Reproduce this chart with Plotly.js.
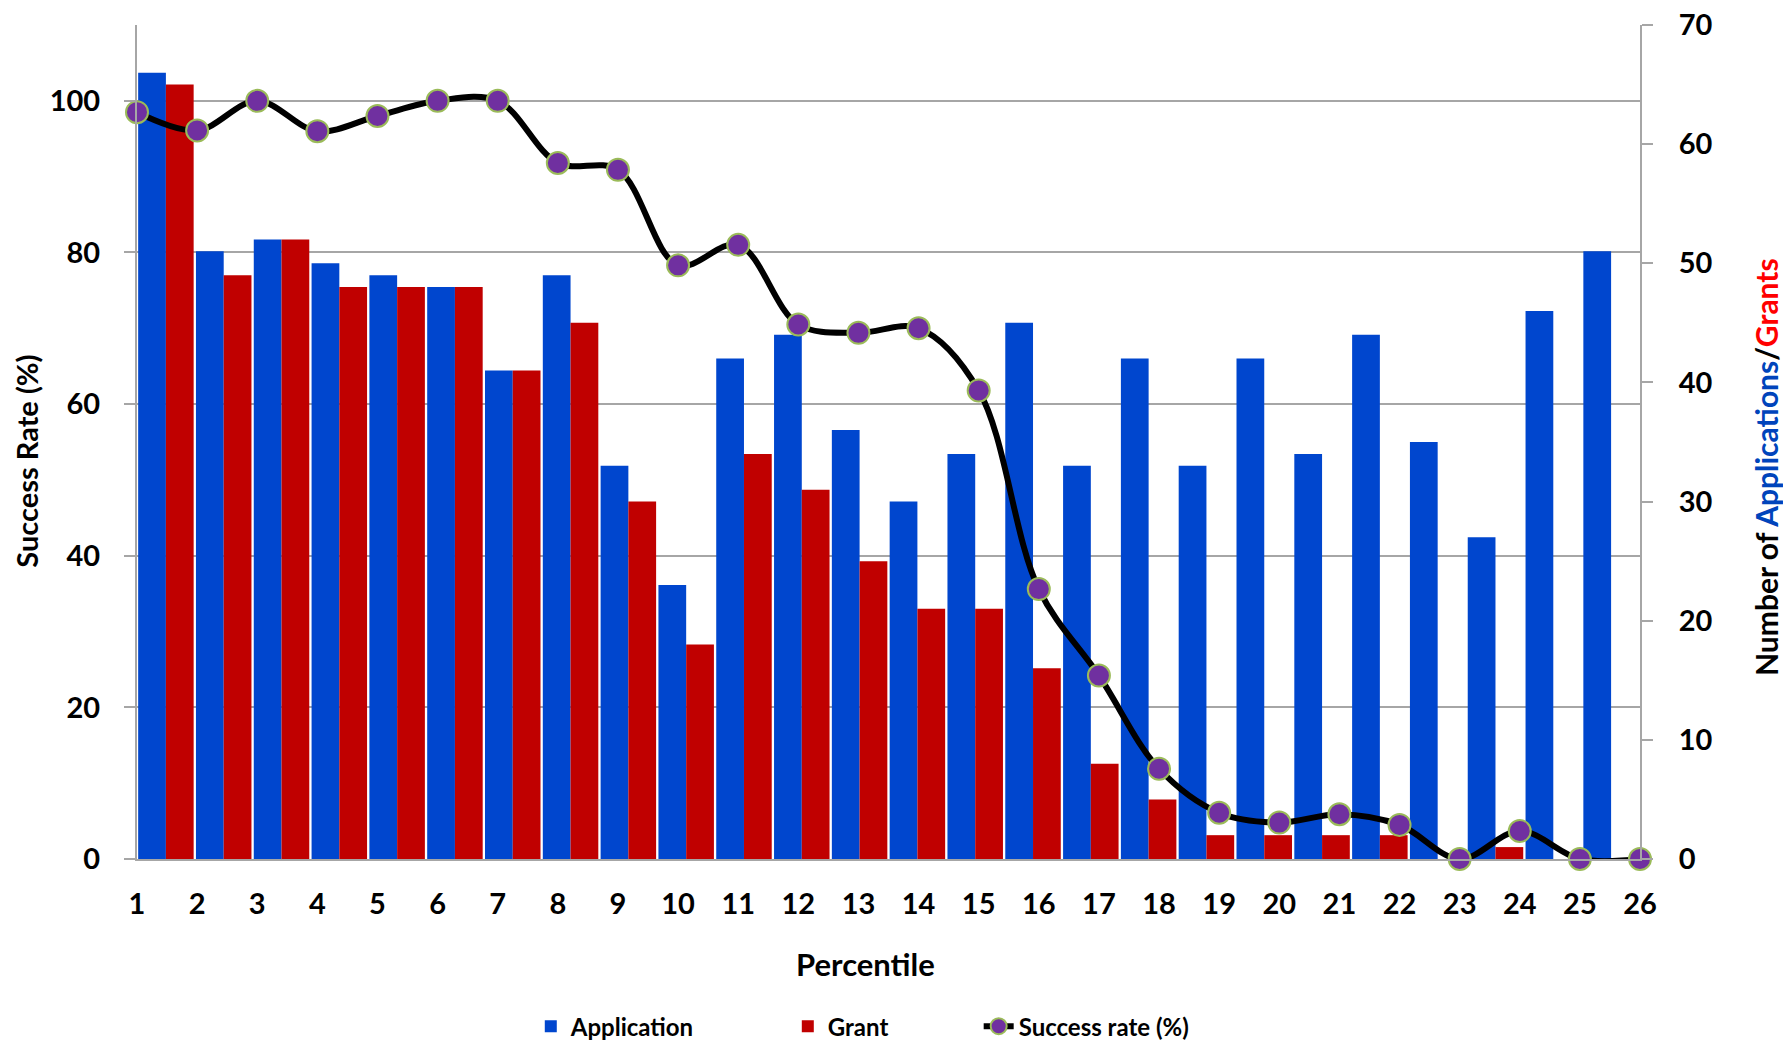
<!DOCTYPE html>
<html>
<head>
<meta charset="utf-8">
<script src="https://cdn.plot.ly/plotly-3.0.1.min.js"></script>
<style>
  html, body { margin: 0; padding: 0; background: #ffffff; }
  #chart { width: 1783px; height: 1061px; }
</style>
</head>
<body>
<div id="chart"></div>
<script>
// ---- data ----
const percentileLabels = ['1','2','3','4','5','6','7','8','9','10','11','12','13','14','15','16','17','18','19','20','21','22','23','24','25','26'];
const percentile = [1,2,3,4,5,6,7,8,9,10,11,12,13,14,15,16,17,18,19,20,21,22,23,24,25,26];
const applications = [66,51,52,50,49,48,41,49,33,23,42,44,36,30,34,45,33,42,33,42,34,44,35,27,46,51];
const grants       = [65,49,52,48,48,48,41,45,30,18,34,31,25,21,21,16,8,5,2,2,2,2,0,1,0,0];
const successRate  = [98.5,96.1,100,96,98,100,100,91.8,90.9,78.3,81,70.5,69.4,70,61.8,35.6,24.2,11.9,6.1,4.8,5.9,4.5,0,3.7,0,0];
const leftTicks  = [0,20,40,60,80,100];
const rightTicks = [0,10,20,30,40,50,60,70];

const FONT = 'Lato, "Open Sans", "DejaVu Sans", sans-serif';
const GRID = '#a6a6a6';

const traces = [
  {
    type: 'bar', name: 'Application', x: percentileLabels, y: applications,
    xaxis: 'x', yaxis: 'y', legend: 'legend',
    marker: { color: '#0046CE' }, hoverinfo: 'x+y'
  },
  {
    type: 'bar', name: 'Grant', x: percentileLabels, y: grants,
    xaxis: 'x', yaxis: 'y', legend: 'legend2',
    marker: { color: '#C00000' }, hoverinfo: 'x+y'
  },
  {
    type: 'scatter', mode: 'lines+markers', name: 'Success rate (%)',
    x: percentile, y: successRate, xaxis: 'x2', yaxis: 'y2', legend: 'legend3',
    line: { color: '#000000', width: 6, shape: 'spline', smoothing: 1 },
    marker: { color: '#7030A0', size: 22, line: { color: '#9BBB59', width: 2 } },
    cliponaxis: false
  }
];

const legendCommon = {
  orientation: 'h', yanchor: 'middle', xanchor: 'left', y: -0.201,
  bgcolor: 'rgba(0,0,0,0)', borderwidth: 0,
  font: { family: FONT, size: 24, weight: 'bold', color: '#000' }
};

const layout = {
  width: 1783, height: 1061,
  margin: { l: 137, r: 143, t: 25, b: 185 },
  paper_bgcolor: '#ffffff', plot_bgcolor: '#ffffff',
  font: { family: FONT, color: '#000' },
  barmode: 'group', bargap: 0.04, bargroupgap: 0,
  showlegend: true,
  legend:  Object.assign({}, legendCommon, { x: 0.262 }),
  legend2: Object.assign({}, legendCommon, { x: 0.433 }),
  legend3: Object.assign({}, legendCommon, { x: 0.560 }),
  xaxis: {
    type: 'category', range: [-0.5, 25.5],
    showticklabels: false, ticks: '', showgrid: false, zeroline: false,
    showline: true, linecolor: GRID, linewidth: 2, fixedrange: true
  },
  xaxis2: {
    overlaying: 'x', side: 'bottom', anchor: 'y2', type: 'linear', range: [1, 26],
    tickvals: percentile, ticktext: percentileLabels,
    ticks: '', showgrid: false, zeroline: false, showline: false,
    ticklabelstandoff: 25,
    tickfont: { family: FONT, size: 29, weight: 'bold', color: '#000' }, fixedrange: true
  },
  yaxis: {
    side: 'right', range: [0, 70], tickvals: rightTicks,
    ticks: 'outside', ticklen: 11, tickcolor: GRID, tickwidth: 2,
    showline: true, linecolor: GRID, linewidth: 2,
    showgrid: false, zeroline: false, ticklabelstandoff: 20,
    tickfont: { family: FONT, size: 29, weight: 'bold', color: '#000' }, fixedrange: true
  },
  yaxis2: {
    overlaying: 'y', side: 'left', anchor: 'x2', range: [0, 110], tickvals: leftTicks,
    ticks: 'outside', ticklen: 11, tickcolor: GRID, tickwidth: 2,
    showline: true, linecolor: GRID, linewidth: 2,
    showgrid: true, gridcolor: GRID, gridwidth: 1.5, zeroline: false, ticklabelstandoff: 18,
    tickfont: { family: FONT, size: 29, weight: 'bold', color: '#000' }, fixedrange: true
  },
  annotations: [
    {
      text: 'Success Rate (%)', xref: 'paper', yref: 'paper', x: -0.0735, y: 0.477,
      textangle: -90, showarrow: false, xanchor: 'center', yanchor: 'middle',
      font: { family: FONT, size: 29, weight: 'bold', color: '#000' }
    },
    {
      text: 'Number of <span style="color:#0044BB">Applications</span>/<span style="color:#FF0000">Grants</span>',
      xref: 'paper', yref: 'paper', x: 1.0838, y: 0.47,
      textangle: -90, showarrow: false, xanchor: 'center', yanchor: 'middle',
      font: { family: FONT, size: 30, weight: 'bold', color: '#000' }
    },
    {
      text: 'Percentile', xref: 'paper', yref: 'paper', x: 0.485, y: -0.126,
      showarrow: false, xanchor: 'center', yanchor: 'middle',
      font: { family: FONT, size: 31, weight: 'bold', color: '#000' }
    }
  ]
};

Plotly.newPlot('chart', traces, layout, { displayModeBar: false });
</script>
</body>
</html>
